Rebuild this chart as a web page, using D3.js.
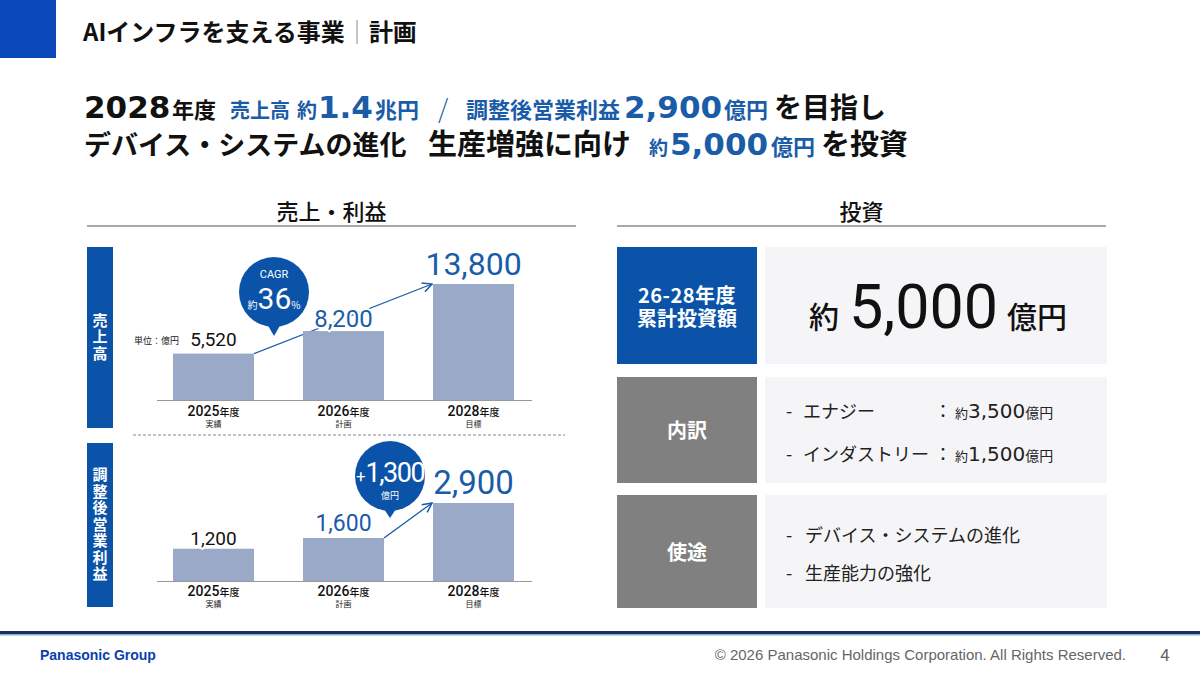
<!DOCTYPE html>
<html>
<head>
<meta charset="utf-8">
<script src="https://cdn.jsdelivr.net/npm/d3@7"></script>
<style>
  body { margin: 0; background: #fff; }
  svg { display: block; font-family: "Noto Sans CJK JP", "Noto Sans", sans-serif; }
</style>
</head>
<body>
<div id="slide"></div>
<script>
// data
var years = ["2025", "2026", "2028"];
var yearNotes = ["実績", "計画", "目標"];
var sales = [5520, 8200, 13800];
var profit = [1200, 1600, 2900];
var cagrText = "36";
var profitDelta = "1,300";
var investTotal = "5,000";
var breakdownNames = ["エナジー", "インダストリー"];
var breakdownValues = ["3,500", "1,500"];
var uses = ["デバイス・システムの進化", "生産能力の強化"];

var width = 1200, height = 675;
var blue = "#0a53a8", txtBlue = "#1b5ca9", barColor = "#9aa9c8", grayBox = "#808080", panel = "#f5f5f7";
var wideNum = "'DejaVu Sans', sans-serif", numFont = "Roboto, 'Noto Sans', sans-serif";

var svg = d3.select("#slide").append("svg").attr("width", width).attr("height", height);

svg.append("defs").append("marker").attr("id", "arr")
	.attr("viewBox", "0 0 10 10").attr("refX", 9).attr("refY", 5)
	.attr("markerWidth", 9).attr("markerHeight", 9).attr("orient", "auto")
	.append("path").attr("d", "M1,1 L9,5 L1,9").attr("fill", "none").attr("stroke", txtBlue).attr("stroke-width", 1.3);

// header
svg.append("rect").attr("x", 0).attr("y", 0).attr("width", 56).attr("height", 58).attr("fill", "#0a47b8");
var ht = svg.append("text").attr("x", 83).attr("y", 41).attr("font-size", 24).attr("font-weight", 700).attr("fill", "#111");
ht.append("tspan").text("AIインフラを支える事業");
ht.append("tspan").attr("fill", "#888").attr("font-weight", 300).text("｜");
ht.append("tspan").text("計画");

// headline pieces: [text, x, size, blue?, wide digits?]
var line1 = [
	["2028", 84, 31, 0, 1], ["年度", 172, 22, 0, 0], ["売上高", 230, 20, 1, 0], ["約", 297, 20, 1, 0],
	["1.4", 318, 31, 1, 1], ["兆円", 375, 22, 1, 0], ["/", 438, 26, 1, 0], ["調整後営業利益", 466, 22, 1, 0],
	["2,900", 624, 31, 1, 1], ["億円", 724, 22, 1, 0], ["を目指し", 774, 28, 0, 0]
];
var line2 = [
	["デバイス・システムの進化", 84, 27, 0, 0], ["生産増強に向け", 428, 29, 0, 0], ["約", 649, 19, 1, 0],
	["5,000", 670, 31, 1, 1], ["億円", 771, 22, 1, 0], ["を投資", 821, 29, 0, 0]
];
function headline(parts, y) {
	var t = svg.append("text").attr("y", y).attr("font-weight", 700).attr("fill", "#111");
	parts.forEach(function (p) {
		var s = t.append("tspan").attr("x", p[1]).attr("font-size", p[2]).text(p[0]);
		if (p[3]) s.attr("fill", txtBlue);
		if (p[4]) s.attr("font-family", wideNum);
		if (p[0] === "/") s.attr("font-weight", 300);
	});
}
headline(line1, 118);
headline(line2, 155);

// section titles
function section(x1, x2, label) {
	svg.append("text").attr("x", (x1 + x2) / 2).attr("y", 220).attr("text-anchor", "middle")
		.attr("font-size", 22).attr("font-weight", 500).attr("fill", "#111").text(label);
	svg.append("line").attr("x1", x1).attr("x2", x2).attr("y1", 226).attr("y2", 226)
		.attr("stroke", "#555").attr("stroke-width", 1.2);
}
section(87, 576, "売上・利益");
section(617, 1106, "投資");

// vertical side labels
function sideLabel(y, h, label) {
	svg.append("rect").attr("x", 87).attr("y", y).attr("width", 26).attr("height", h).attr("fill", blue);
	svg.append("text").attr("x", 100).attr("y", y + h / 2).attr("text-anchor", "middle")
		.attr("writing-mode", "vertical-rl").attr("letter-spacing", 1.5)
		.attr("fill", "#fff").attr("font-size", 15).attr("font-weight", 700).text(label);
}
sideLabel(247, 181, "売上高");
sideLabel(443, 164, "調整後営業利益");

var x = d3.scaleBand().domain(years).range([157, 530]).paddingInner(0.377).paddingOuter(0.123);

function barChart(values, y, valueSizes, gaps, yearsY) {
	var base = y(0);
	var g = svg.append("g");
	g.append("line").attr("x1", 157).attr("x2", 532).attr("y1", base + 0.5).attr("y2", base + 0.5)
		.attr("stroke", "#999").attr("stroke-width", 1);
	g.selectAll("rect.bar").data(values).join("rect").attr("class", "bar")
		.attr("x", function (d, i) { return x(years[i]); })
		.attr("y", function (d) { return y(d); })
		.attr("width", x.bandwidth())
		.attr("height", function (d) { return base - y(d); })
		.attr("fill", barColor);
	g.selectAll("text.val").data(values).join("text").attr("class", "val")
		.attr("x", function (d, i) { return x(years[i]) + x.bandwidth() / 2; })
		.attr("y", function (d, i) { return y(d) - gaps[i]; })
		.attr("text-anchor", "middle").attr("font-family", numFont)
		.attr("font-size", function (d, i) { return valueSizes[i]; })
		.attr("fill", function (d, i) { return i === 0 ? "#111" : txtBlue; })
		.attr("stroke", "#fff").attr("stroke-width", 4).attr("paint-order", "stroke")
		.text(function (d) { return d3.format(",")(d); });
	var yl = g.selectAll("text.yr").data(years).join("text").attr("class", "yr")
		.attr("x", function (d) { return x(d) + x.bandwidth() / 2; })
		.attr("y", yearsY).attr("text-anchor", "middle").attr("fill", "#111").attr("font-weight", 500);
	yl.append("tspan").attr("font-size", 14).attr("font-family", numFont).text(function (d) { return d; });
	yl.append("tspan").attr("font-size", 10).text("年度");
	g.selectAll("text.note").data(yearNotes).join("text").attr("class", "note")
		.attr("x", function (d, i) { return x(years[i]) + x.bandwidth() / 2; })
		.attr("y", yearsY + 11).attr("text-anchor", "middle").attr("font-size", 8).attr("fill", "#222")
		.text(function (d) { return d; });
}

// sales chart: trend arrow drawn first so bars sit on it
var ySales = d3.scaleLinear().domain([0, d3.max(sales)]).range([400, 284]);
svg.append("line")
	.attr("x1", x(years[0]) + x.bandwidth()).attr("y1", ySales(sales[0]))
	.attr("x2", x(years[2]) - 1).attr("y2", ySales(sales[2]))
	.attr("stroke", txtBlue).attr("stroke-width", 1.3).attr("marker-end", "url(#arr)");
barChart(sales, ySales, [19, 24, 32], [8, 4, 9], 416);
svg.append("text").attr("x", 134).attr("y", 344).attr("font-size", 9).attr("fill", "#222").text("単位：億円");

// CAGR bubble
var bub1 = svg.append("g").attr("transform", "translate(274,292)");
bub1.append("path").attr("d", "M-8,30 L0,44 L8,30 Z").attr("fill", blue);
bub1.append("circle").attr("r", 35).attr("fill", blue);
bub1.append("text").attr("y", -14).attr("text-anchor", "middle").attr("font-size", 11).attr("font-family", numFont)
	.attr("fill", "#fff").text("CAGR");
var ct = bub1.append("text").attr("y", 17).attr("text-anchor", "middle").attr("fill", "#fff");
ct.append("tspan").attr("font-size", 10).text("約");
ct.append("tspan").attr("font-size", 30).attr("font-family", numFont).text(cagrText);
ct.append("tspan").attr("font-size", 10).text("%");

// dashed divider
svg.append("line").attr("x1", 133).attr("x2", 565).attr("y1", 435).attr("y2", 435)
	.attr("stroke", "#888").attr("stroke-dasharray", "3,2");

// profit chart
var yProfit = d3.scaleLinear().domain([0, d3.max(profit)]).range([581, 503]);
svg.append("line")
	.attr("x1", x(years[1]) + x.bandwidth()).attr("y1", yProfit(profit[1]))
	.attr("x2", x(years[2]) - 1).attr("y2", yProfit(profit[2]))
	.attr("stroke", txtBlue).attr("stroke-width", 1.3).attr("marker-end", "url(#arr)");
barChart(profit, yProfit, [19, 23, 33], [4, 7, 9], 596);

var bub2 = svg.append("g").attr("transform", "translate(390,476)");
bub2.append("path").attr("d", "M-8,30 L0,42 L8,30 Z").attr("fill", blue);
bub2.append("circle").attr("r", 35).attr("fill", blue);
var dt = bub2.append("text").attr("y", 6).attr("text-anchor", "middle").attr("fill", "#fff").attr("font-family", numFont);
dt.append("tspan").attr("font-size", 17).text("+");
dt.append("tspan").attr("font-size", 27).attr("letter-spacing", -1.5).text(profitDelta);
bub2.append("text").attr("y", 23).attr("text-anchor", "middle").attr("font-size", 9).attr("fill", "#fff").text("億円");

// investment panels
function panelRow(y, h, boxFill, lines, size, off) {
	svg.append("rect").attr("x", 617).attr("y", y).attr("width", 140).attr("height", h).attr("fill", boxFill);
	svg.append("rect").attr("x", 765).attr("y", y).attr("width", 342).attr("height", h).attr("fill", panel);
	var t = svg.append("text").attr("text-anchor", "middle").attr("fill", "#fff").attr("font-weight", 700).attr("font-size", size);
	lines.forEach(function (l, i) {
		t.append("tspan").attr("x", 687).attr("y", y + h / 2 + off + (i - (lines.length - 1) / 2) * 23).text(l);
	});
	return t;
}
var pt = panelRow(247, 117, blue, ["26-28年度", "累計投資額"], 20, 9);
pt.select("tspan").attr("letter-spacing", 0.5);
panelRow(377, 106, grayBox, ["内訳"], 20, 8);
panelRow(495, 113, grayBox, ["使途"], 20, 8);

var big = svg.append("text").attr("y", 328).attr("fill", "#111");
big.append("tspan").attr("x", 809).attr("font-size", 30).attr("font-weight", 500).text("約");
big.append("tspan").attr("x", 849).attr("font-size", 61).attr("font-family", numFont).text(investTotal);
big.append("tspan").attr("x", 1007).attr("font-size", 30).attr("font-weight", 500).text("億円");

breakdownNames.forEach(function (n, i) {
	var yy = 418 + i * 43;
	svg.append("text").attr("x", 786).attr("y", yy).attr("font-size", 18).attr("fill", "#222").text("-");
	svg.append("text").attr("x", 803).attr("y", yy).attr("font-size", 18).attr("fill", "#222").text(n);
	var v = svg.append("text").attr("y", yy).attr("fill", "#222");
	v.append("tspan").attr("x", 934).attr("font-size", 18).text("：");
	v.append("tspan").attr("x", 955).attr("font-size", 13).text("約");
	v.append("tspan").attr("font-size", 20).attr("font-family", wideNum).text(breakdownValues[i]);
	v.append("tspan").attr("font-size", 14).text("億円");
});
uses.forEach(function (u, i) {
	var yy = 542 + i * 38;
	svg.append("text").attr("x", 786).attr("y", yy).attr("font-size", 18).attr("fill", "#222").text("-");
	svg.append("text").attr("x", 805).attr("y", yy).attr("font-size", 18).attr("fill", "#222").text(u);
});

// footer
svg.append("rect").attr("x", 0).attr("y", 631).attr("width", width).attr("height", 3).attr("fill", "#1b2f5e");
svg.append("rect").attr("x", 0).attr("y", 634).attr("width", width).attr("height", 1.5).attr("fill", "#8fa8d0");
svg.append("text").attr("x", 40).attr("y", 660).attr("font-family", "'Liberation Sans', sans-serif")
	.attr("font-size", 14).attr("font-weight", 700).attr("fill", "#0a3fb0").text("Panasonic Group");
svg.append("text").attr("x", 1126).attr("y", 660).attr("text-anchor", "end")
	.attr("font-family", "'Liberation Sans', sans-serif")
	.attr("font-size", 15).attr("fill", "#666").text("© 2026 Panasonic Holdings Corporation. All Rights Reserved.");
svg.append("text").attr("x", 1165).attr("y", 661).attr("text-anchor", "middle").attr("font-size", 17).attr("fill", "#666").text("4");
</script>
</body>
</html>
